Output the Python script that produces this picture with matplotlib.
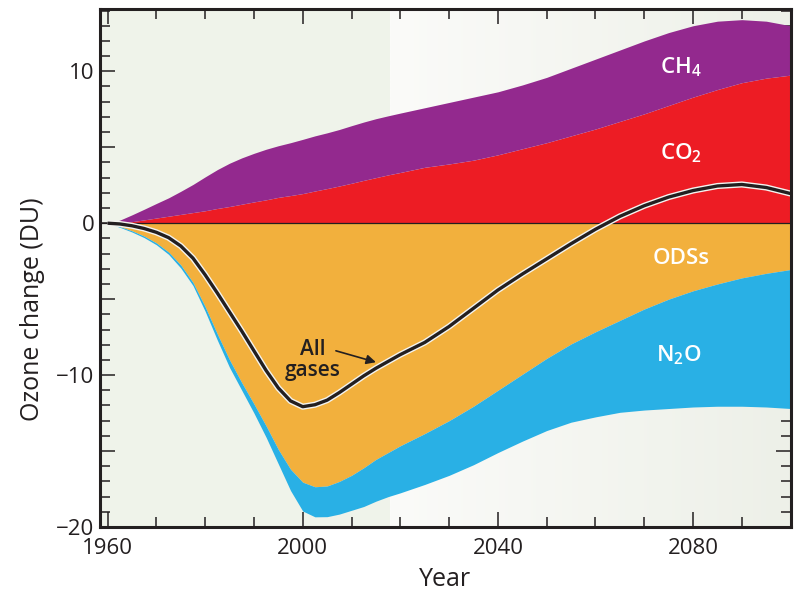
import numpy as np
import matplotlib
matplotlib.use("Agg")
import matplotlib.pyplot as plt

plt.rcParams.update({
    'font.family': ['Open Sans', 'DejaVu Sans'],
    'mathtext.default': 'regular',
    'axes.linewidth': 2.2,
    'xtick.direction': 'in',
    'ytick.direction': 'in',
    'xtick.top': True,
    'ytick.right': True,
})

# ---- data (ozone change, DU) ----
years = [1960, 1962.5, 1965, 1967.5, 1970, 1972.5, 1975, 1977.5, 1980, 1982.5,
         1985, 1987.5, 1990, 1992.5, 1995, 1997.5, 2000, 2002.5, 2005, 2007.5,
         2010, 2012.5, 2015, 2017.5, 2020,
         2025, 2030, 2035, 2040, 2045, 2050, 2055, 2060, 2065, 2070,
         2075, 2080, 2085, 2090, 2095, 2100]

# upper edge of the CO2 band (stacked from 0)
co2_top = [0, 0.04, 0.1, 0.22, 0.34, 0.46, 0.58, 0.7, 0.82, 0.97,
           1.1, 1.25, 1.4, 1.54, 1.7, 1.82, 1.95, 2.12, 2.28, 2.45,
           2.63, 2.82, 3.0, 3.18, 3.34,
           3.68, 3.9, 4.15, 4.5, 4.9, 5.3, 5.75, 6.2, 6.7, 7.2,
           7.75, 8.3, 8.8, 9.25, 9.55, 9.75]
# upper edge of the CH4 band (CO2 + CH4)
ch4_top = [0, 0.2, 0.55, 0.92, 1.3, 1.67, 2.1, 2.55, 3.05, 3.53,
           3.95, 4.3, 4.6, 4.87, 5.1, 5.3, 5.52, 5.75, 5.95, 6.17,
           6.42, 6.66, 6.88, 7.07, 7.25,
           7.6, 7.95, 8.3, 8.65, 9.1, 9.6, 10.2, 10.8, 11.4, 12.0,
           12.55, 13.0, 13.3, 13.4, 13.3, 13.0]
# lower edge of the ODS band (stacked from 0)
ods_bottom = [0, -0.22, -0.5, -0.85, -1.3, -1.9, -2.75, -3.9, -5.5, -7.3,
              -9.0, -10.5, -11.9, -13.35, -14.9, -16.2, -17.05, -17.35, -17.3, -17.0,
              -16.6, -16.1, -15.55, -15.1, -14.65,
              -13.85, -13.0, -12.05, -11.0, -9.95, -8.9, -7.95, -7.15, -6.4, -5.65,
              -5.0, -4.45, -4.0, -3.6, -3.3, -3.05]
# lower edge of the N2O band (ODSs + N2O)
n2o_bottom = [0, -0.27, -0.58, -0.95, -1.42, -2.05, -2.95, -4.1, -5.8, -7.7,
              -9.5, -11.0, -12.5, -14.1, -15.85, -17.6, -18.95, -19.33, -19.32, -19.15,
              -18.9, -18.65, -18.3, -18.0, -17.75,
              -17.2, -16.6, -15.9, -15.1, -14.35, -13.65, -13.1, -12.75, -12.45, -12.3,
              -12.2, -12.1, -12.05, -12.05, -12.1, -12.2]
# net response to all gases
all_gases = [0, -0.05, -0.17, -0.35, -0.6, -0.95, -1.5, -2.3, -3.4, -4.6,
             -5.85, -7.1, -8.4, -9.7, -10.85, -11.7, -12.08, -11.95, -11.65, -11.15,
             -10.6, -10.05, -9.55, -9.1, -8.65,
             -7.85, -6.8, -5.6, -4.4, -3.35, -2.35, -1.35, -0.4, 0.45, 1.15,
             1.72, 2.15, 2.45, 2.55, 2.35, 1.95]

labels = ['CH$_4$', 'CO$_2$', 'ODSs', 'N$_2$O']
label_pos = [(2077.5, 10.3), (2077.5, 4.6), (2077.5, -2.3), (2077.0, -8.7)]

C_CH4 = '#93298e'
C_CO2 = '#ed1c24'
C_ODS = '#f2b03d'
C_N2O = '#29b0e5'
C_INK = '#231f20'

fig = plt.figure(figsize=(7.97, 5.94), dpi=100)
ax = fig.add_axes([0.1255, 0.1128, 0.8665, 0.872])

XMIN, XMAX = 1958.45, 2099.8
YMIN, YMAX = -20.0, 14.1

# background: flat tint before ~2018, light gradient afterwards
ax.set_facecolor('#eff3ea')
grad = np.linspace(0, 1, 256)
c0 = np.array([251, 251, 249]) / 255
c1 = np.array([237, 240, 232]) / 255
img = (c0[None, :] * (1 - grad[:, None]) + c1[None, :] * grad[:, None])[None, :, :]
ax.imshow(img, extent=[2017.9, XMAX, YMIN, YMAX], aspect='auto', zorder=0,
          interpolation='bilinear')

ax.fill_between(years, 0, co2_top, color=C_CO2, lw=0, zorder=2)
ax.fill_between(years, co2_top, ch4_top, color=C_CH4, lw=0, zorder=2)
ax.fill_between(years, 0, ods_bottom, color=C_ODS, lw=0, zorder=2)
ax.fill_between(years, ods_bottom, n2o_bottom, color=C_N2O, lw=0, zorder=2)

ax.axhline(0, color=C_INK, lw=0.9, zorder=3)

# "All gases" line with a thin white halo
ax.plot(years, all_gases, color='#f4f4f0', lw=4.4, solid_capstyle='butt',
        solid_joinstyle='round', zorder=4)
ax.plot(years, all_gases, color=C_INK, lw=2.4, solid_capstyle='butt',
        solid_joinstyle='round', zorder=5)

for txt, (x, y) in zip(labels, label_pos):
    ax.text(x, y, txt, color='white', fontsize=16, fontweight='semibold',
            ha='center', va='center', zorder=6)

ax.text(2002.0, -9.0, 'All\ngases', color=C_INK, fontsize=15, fontweight='semibold',
        ha='center', va='center', linespacing=1.0, zorder=6)
ax.annotate('', xy=(2015.0, -9.15), xytext=(2006.8, -8.4),
            arrowprops=dict(arrowstyle='-|>', color=C_INK, lw=1.2,
                            mutation_scale=14, shrinkA=0, shrinkB=0),
            zorder=6)

ax.set_xlim(XMIN, XMAX)
ax.set_ylim(YMIN, YMAX)
ax.set_xticks([1960, 2000, 2040, 2080])
ax.set_xticks(np.arange(1960, 2101, 10), minor=True)
ax.set_yticks([-20, -15, -10, -5, 0, 5, 10])
ax.set_yticks(np.arange(-20, 15, 1), minor=True)
ax.set_yticklabels(['\u221220', '', '\u221210', '', '0', '', '10'])

ax.tick_params(which='major', length=10.5, width=1.1, color=C_INK,
               labelsize=16, labelcolor=C_INK)
ax.tick_params(axis='x', which='major', pad=8)
ax.tick_params(axis='y', which='major', pad=4)
ax.tick_params(which='minor', length=7, width=1.1, color=C_INK)
for sp in ax.spines.values():
    sp.set_color(C_INK)
    sp.set_zorder(10)

ax.set_xlabel('Year', fontsize=18, color=C_INK, labelpad=6)
ax.set_ylabel('Ozone change (DU)', fontsize=18, color=C_INK)
ax.yaxis.set_label_coords(-0.08, 0.42)

fig.savefig('out.png', dpi=100)
